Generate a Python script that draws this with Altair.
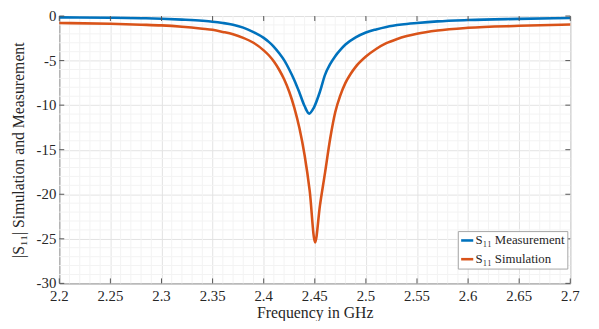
import altair as alt
import pandas as pd

# Measurement curve (|S11| in dB)
meas_f = [2.20, 2.25, 2.28, 2.30, 2.32, 2.34, 2.35, 2.36, 2.37, 2.38, 2.39, 2.40, 2.405, 2.41, 2.415,
          2.42, 2.425, 2.43, 2.435, 2.44, 2.4445, 2.449, 2.455, 2.46, 2.465, 2.47, 2.475, 2.48, 2.49,
          2.50, 2.51, 2.52, 2.535, 2.55, 2.57, 2.60, 2.65, 2.70]
meas_db = [-0.15, -0.19, -0.24, -0.30, -0.40, -0.53, -0.63, -0.78, -0.98, -1.3, -1.8, -2.45, -2.9, -3.45,
           -4.15, -4.95, -6.0, -7.2, -8.6, -10.1, -10.95, -10.3, -8.5, -6.6, -5.4, -4.5, -3.8, -3.2, -2.4,
           -1.85, -1.5, -1.22, -0.95, -0.78, -0.6, -0.45, -0.32, -0.22]

# Simulation curve (|S11| in dB)
sim_f = [2.20, 2.25, 2.28, 2.30, 2.32, 2.34, 2.35, 2.36, 2.37, 2.38, 2.39, 2.40, 2.405, 2.41, 2.415,
         2.42, 2.425, 2.43, 2.435, 2.44, 2.445, 2.4503, 2.455, 2.46, 2.465, 2.47, 2.475, 2.48, 2.485,
         2.49, 2.50, 2.51, 2.52, 2.53, 2.54, 2.55, 2.57, 2.60, 2.65, 2.70]
sim_db = [-0.78, -0.87, -0.97, -1.05, -1.2, -1.42, -1.55, -1.78, -2.05, -2.45, -3.0, -3.85, -4.4, -5.1,
          -6.0, -7.1, -8.5, -10.3, -12.6, -15.6, -19.6, -25.4, -21.3, -17.6, -13.8, -10.8, -8.9, -7.5,
          -6.5, -5.7, -4.55, -3.7, -3.05, -2.6, -2.25, -1.98, -1.62, -1.32, -1.1, -0.95]

series_names = ["S\u2081\u2081 Measurement", "S\u2081\u2081 Simulation"]
series_colors = ["#0072BD", "#D95319"]

x_major = [2.2, 2.25, 2.3, 2.35, 2.4, 2.45, 2.5, 2.55, 2.6, 2.65, 2.7]
x_labels = ["2.2", "2.25", "2.3", "2.35", "2.4", "2.45", "2.5", "2.55", "2.6", "2.65", "2.7"]
y_major = [0, -5, -10, -15, -20, -25, -30]
y_labels = ["0", "-5", "-10", "-15", "-20", "-25", "-30"]
x_minor = [2.21, 2.22, 2.23, 2.24, 2.26, 2.27, 2.28, 2.29, 2.31, 2.32, 2.33, 2.34,
           2.36, 2.37, 2.38, 2.39, 2.41, 2.42, 2.43, 2.44, 2.46, 2.47, 2.48, 2.49,
           2.51, 2.52, 2.53, 2.54, 2.56, 2.57, 2.58, 2.59, 2.61, 2.62, 2.63, 2.64,
           2.66, 2.67, 2.68, 2.69]
y_minor = [-1, -2, -3, -4, -6, -7, -8, -9, -11, -12, -13, -14, -16, -17, -18, -19,
           -21, -22, -23, -24, -26, -27, -28, -29]

df = pd.concat([
    pd.DataFrame({"f": meas_f, "db": meas_db, "series": series_names[0]}),
    pd.DataFrame({"f": sim_f, "db": sim_db, "series": series_names[1]}),
])

W, H = 518, 271
FONT = "Liberation Serif"
TXT = "#262626"

xs = alt.Scale(domain=[2.2, 2.7], nice=False, zero=False)
ys = alt.Scale(domain=[-30, 0], nice=False, zero=False)

x_axis = alt.Axis(values=x_major, title="Frequency in GHz", grid=True, labels=False,
                  ticks=False, titlePadding=22,
                  titleFont=FONT, titleFontSize=16, titleColor=TXT, titleFontWeight="normal")
y_axis = alt.Axis(values=y_major, title="|S\u2081\u2081| Simulation and Measurement", grid=True,
                  labels=False, ticks=False, titlePadding=33,
                  titleFont=FONT, titleFontSize=16, titleColor=TXT, titleFontWeight="normal")

lines = alt.Chart(df).mark_line(strokeWidth=2.6, interpolate="monotone").encode(
    x=alt.X("f:Q", scale=xs, axis=x_axis),
    y=alt.Y("db:Q", scale=ys, axis=y_axis),
    color=alt.Color("series:N",
                    scale=alt.Scale(domain=series_names, range=series_colors),
                    legend=alt.Legend(title=None, orient="none", legendX=404, legendY=218)),
)

minor_x = alt.Chart(pd.DataFrame({"f": x_minor})).mark_rule(color="#f3f3f3", strokeWidth=1).encode(
    x=alt.X("f:Q", scale=xs, axis=x_axis))
minor_y = alt.Chart(pd.DataFrame({"db": y_minor})).mark_rule(color="#f3f3f3", strokeWidth=1).encode(
    y=alt.Y("db:Q", scale=ys, axis=y_axis))

xt = pd.DataFrame({"f": x_major, "lab": x_labels})
yt = pd.DataFrame({"db": y_major, "lab": y_labels})
tick_col = "#555555"
ticks_bottom = alt.Chart(xt).mark_rule(color=tick_col).encode(
    x=alt.X("f:Q", scale=xs, axis=x_axis), y=alt.value(H), y2=alt.value(H - 5))
ticks_top = alt.Chart(xt).mark_rule(color=tick_col).encode(
    x=alt.X("f:Q", scale=xs, axis=x_axis), y=alt.value(0), y2=alt.value(5))
ticks_left = alt.Chart(yt).mark_rule(color=tick_col).encode(
    y=alt.Y("db:Q", scale=ys, axis=y_axis), x=alt.value(0), x2=alt.value(5))
ticks_right = alt.Chart(yt).mark_rule(color=tick_col).encode(
    y=alt.Y("db:Q", scale=ys, axis=y_axis), x=alt.value(W), x2=alt.value(W - 5))

x_text = alt.Chart(xt).mark_text(font=FONT, fontSize=15, color=TXT, baseline="top",
                                 align="center").encode(
    x=alt.X("f:Q", scale=xs, axis=x_axis), y=alt.value(H + 6), text="lab:N")
y_text = alt.Chart(yt).mark_text(font=FONT, fontSize=15, color=TXT, baseline="middle",
                                 align="right").encode(
    y=alt.Y("db:Q", scale=ys, axis=y_axis), x=alt.value(-3), text="lab:N")

chart = alt.layer(minor_x, minor_y, lines, ticks_bottom, ticks_top, ticks_left, ticks_right,
                  x_text, y_text).properties(
    width=W, height=H,
    autosize=alt.AutoSizeParams(type="none"),
    padding={"left": 52, "top": 6, "right": 21, "bottom": 36},
).configure(
    font=FONT,
).configure_view(
    stroke="#a6a6a6", strokeWidth=1
).configure_axis(
    titleFont=FONT,
    domainColor="#a6a6a6", gridColor="#e3e3e3", gridWidth=1,
).configure_legend(
    labelFont=FONT, labelFontSize=13, labelColor=TXT,
    strokeColor="#a6a6a6", fillColor="white", padding=2, rowPadding=4,
    symbolType="stroke", symbolStrokeWidth=2.6, symbolSize=150, labelOffset=1,
)

chart.save("out.html", embed_options={"renderer": "svg", "actions": False})
